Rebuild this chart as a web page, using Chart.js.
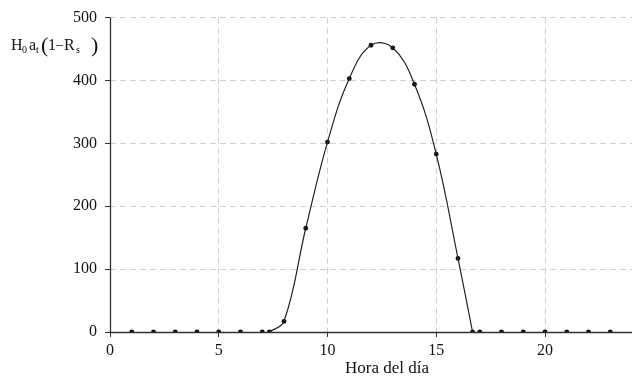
<!DOCTYPE html>
<html>
<head>
<meta charset="utf-8">
<script src="https://cdn.jsdelivr.net/npm/chart.js@4/dist/chart.umd.min.js"></script>
<style>
html,body{margin:0;padding:0;background:#fff;}
#wrap{width:636px;height:378px;position:relative;}
</style>
</head>
<body>
<div id="wrap"><canvas id="c" width="636" height="378"></canvas></div>
<script>
// Data
const hours = [1, 2, 3, 4, 5, 6, 7, 7.33, 8, 9, 10, 11, 12, 13, 14, 15, 16, 16.67, 17, 18, 19, 20, 21, 22, 23];
const absorbed = [0, 0, 0, 0, 0, 0, 0, 0, 17, 165, 302, 403, 456, 452, 394, 283, 117, 0, 0, 0, 0, 0, 0, 0, 0];
const sunHours = [7.33, 8, 9, 10, 11, 12, 13, 14, 15, 16, 16.67];
const sunValues = [0, 17, 165, 302, 403, 456, 452, 394, 283, 117, 0];
const xTicks = [0, 5, 10, 15, 20];
const yTicks = [0, 100, 200, 300, 400, 500];
const xTitle = 'Hora del día';

const SERIF = '"Liberation Serif", "Times New Roman", serif';

const pointsData = hours.map((h, i) => ({x: h, y: absorbed[i]}));
const curveData = sunHours.map((h, i) => ({x: h, y: sunValues[i]}));

const axisPlugin = {
  id: 'axes',
  beforeDatasetsDraw(chart) {
    const ctx = chart.ctx;
    const xs = chart.scales.x, ys = chart.scales.y;
    const x0 = Math.round(xs.getPixelForValue(0)) + 0.5;
    const y0 = Math.round(ys.getPixelForValue(0)) + 0.5;
    ctx.save();
    ctx.strokeStyle = '#333';
    ctx.lineWidth = 1.3;
    ctx.setLineDash([]);
    ctx.beginPath();
    ctx.moveTo(x0, ys.getPixelForValue(500));
    ctx.lineTo(x0, y0);
    ctx.lineTo(xs.right, y0);
    ctx.stroke();
    ctx.restore();
  }
};

const labelPlugin = {
  id: 'labels',
  afterDraw(chart) {
    const ctx = chart.ctx;
    ctx.save();
    ctx.fillStyle = '#111';
    ctx.textBaseline = 'alphabetic';
    ctx.textAlign = 'left';
    const base = 50;
    const big = '16px ' + SERIF;
    const sub = '10px ' + SERIF;
    const par = '22px ' + SERIF;
    const dash = '14px ' + SERIF;
    const parts = [
      ['H', big, 11, 0], ['0', sub, 22, 3], ['a', big, 29, 0], ['t', sub, 36, 3],
      ['(', par, 41, 2], ['1', big, 48, 0], ['\u2013', dash, 56, -1], ['R', big, 64, 0],
      ['s', sub, 76, 3], [')', par, 91, 2]
    ];
    parts.forEach(([t, f, x, dy]) => { ctx.font = f; ctx.fillText(t, x, base + dy); });
    // x axis title
    ctx.font = '17px ' + SERIF;
    ctx.textAlign = 'center';
    ctx.fillText(xTitle, 387, 373);
    ctx.restore();
  }
};

const gridOpts = {
  color: (c) => (c.tick && c.tick.value === 0) ? 'rgba(0,0,0,0)' : '#cfcfcf',
  tickBorderDash: [],
  tickColor: '#333',
  tickLength: 5,
  lineWidth: 1
};

new Chart(document.getElementById('c'), {
  type: 'scatter',
  data: {
    datasets: [
      {
        data: curveData,
        showLine: true,
        tension: 0.4,
        borderColor: '#222',
        borderWidth: 1.2,
        pointRadius: 0,
        fill: false
      },
      {
        data: pointsData,
        showLine: false,
        pointRadius: 2.4,
        pointBackgroundColor: '#111',
        pointBorderColor: '#111',
        pointBorderWidth: 0
      }
    ]
  },
  options: {
    responsive: false,
    animation: false,
    layout: {padding: {top: 16, right: 0, left: 0, bottom: 0}},
    plugins: {legend: {display: false}, tooltip: {enabled: false}},
    scales: {
      x: {
        type: 'linear',
        min: 0,
        max: 24,
        afterFit(s) { s.height = 46; },
        afterBuildTicks(s) { s.ticks = xTicks.map(v => ({value: v})); },
        border: {display: false, dash: [6, 4]},
        grid: gridOpts,
        ticks: {font: {family: SERIF, size: 16}, color: '#111', padding: 4, maxRotation: 0}
      },
      y: {
        min: 0,
        max: 500,
        afterFit(s) { s.width = 110; },
        afterBuildTicks(s) { s.ticks = yTicks.map(v => ({value: v})); },
        border: {display: false, dash: [6, 4]},
        grid: gridOpts,
        ticks: {font: {family: SERIF, size: 16}, color: '#111', padding: 8}
      }
    }
  },
  plugins: [axisPlugin, labelPlugin]
});
</script>
</body>
</html>
